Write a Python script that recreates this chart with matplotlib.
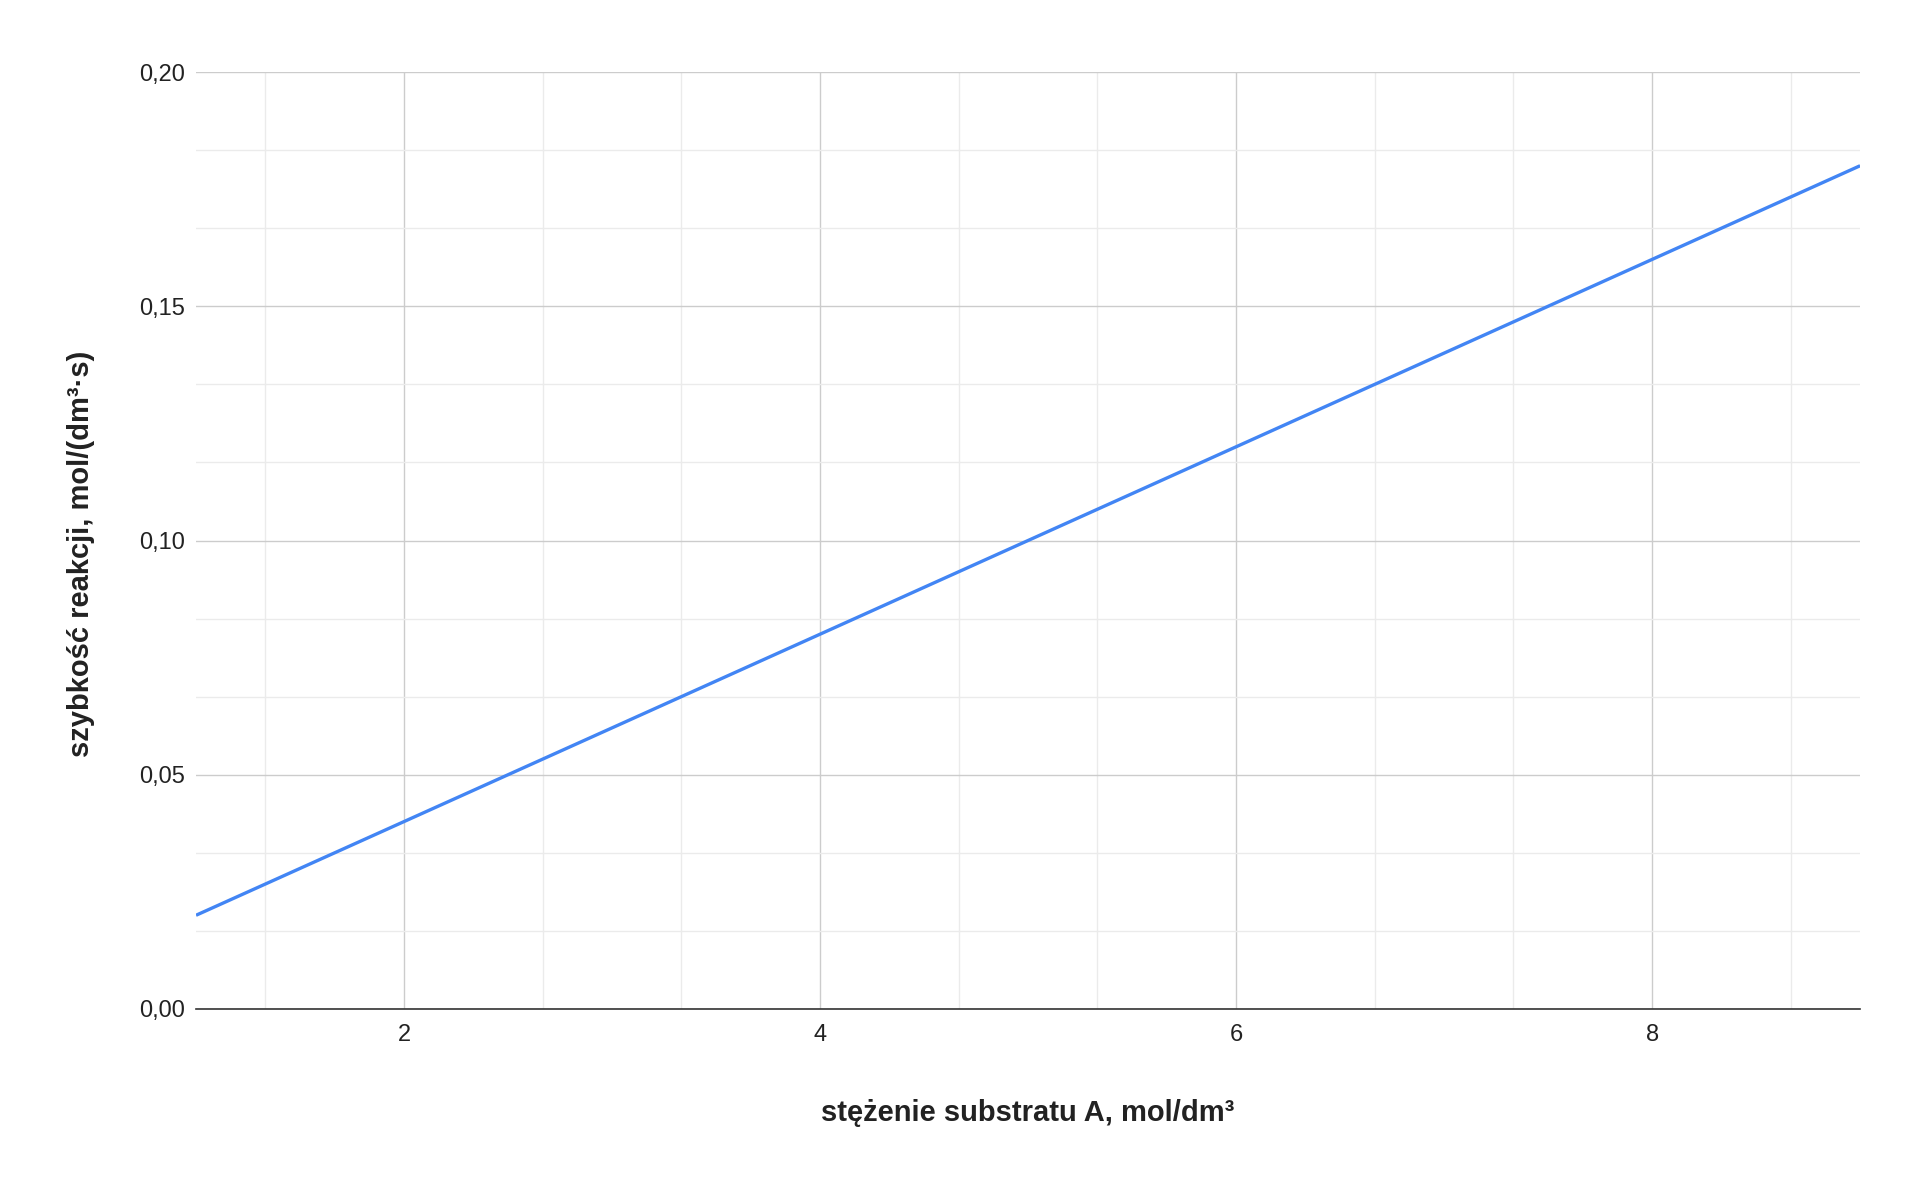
import matplotlib
matplotlib.use("Agg")
import matplotlib.pyplot as plt
from matplotlib.ticker import MultipleLocator, AutoMinorLocator, FuncFormatter

plt.rcParams['font.family'] = ['Liberation Sans', 'DejaVu Sans']

# data
stezenie = [1, 2, 3, 4, 5, 6, 7, 8, 9]
szybkosc = [0.02, 0.04, 0.06, 0.08, 0.10, 0.12, 0.14, 0.16, 0.18]

x_label = "stężenie substratu A, mol/dm³"
y_label = "szybkość reakcji, mol/(dm³·s)"

fig = plt.figure(figsize=(19.2, 11.87), dpi=100)
ax = fig.add_axes([0.1021, 0.150, 0.8667, 0.7893])

ax.plot(stezenie, szybkosc, color="#4285F4", linewidth=2.4, solid_capstyle="butt", zorder=3)

ax.set_xlim(1, 9)
ax.set_ylim(0, 0.20)

ax.xaxis.set_major_locator(MultipleLocator(2))
ax.xaxis.set_minor_locator(AutoMinorLocator(3))
ax.yaxis.set_major_locator(MultipleLocator(0.05))
ax.yaxis.set_minor_locator(AutoMinorLocator(3))
ax.yaxis.set_major_formatter(FuncFormatter(lambda v, p: f"{v:.2f}".replace(".", ",")))

ax.grid(which="major", color="#cccccc", linewidth=1.0)
ax.grid(which="minor", color="#ebebeb", linewidth=1.0)
ax.set_axisbelow(True)

for side in ["top", "right", "left"]:
    ax.spines[side].set_visible(False)
ax.spines["bottom"].set_color("#333333")
ax.spines["bottom"].set_linewidth(1.2)
ax.spines["bottom"].set_zorder(4)

ax.tick_params(which="both", length=0)
ax.tick_params(axis="x", pad=11, labelsize=17, labelcolor="#222222")
ax.tick_params(axis="y", pad=8, labelsize=17, labelcolor="#222222")

ax.set_xlabel(x_label, fontsize=21, fontweight="bold", color="#222222", labelpad=38)
ax.set_ylabel(y_label, fontsize=21, fontweight="bold", color="#222222", labelpad=32)
# the y title sits a little below the middle of the plot in the original
ax.yaxis.label.set_y(0.486)

fig.savefig("out.png", dpi=100, facecolor="white")
